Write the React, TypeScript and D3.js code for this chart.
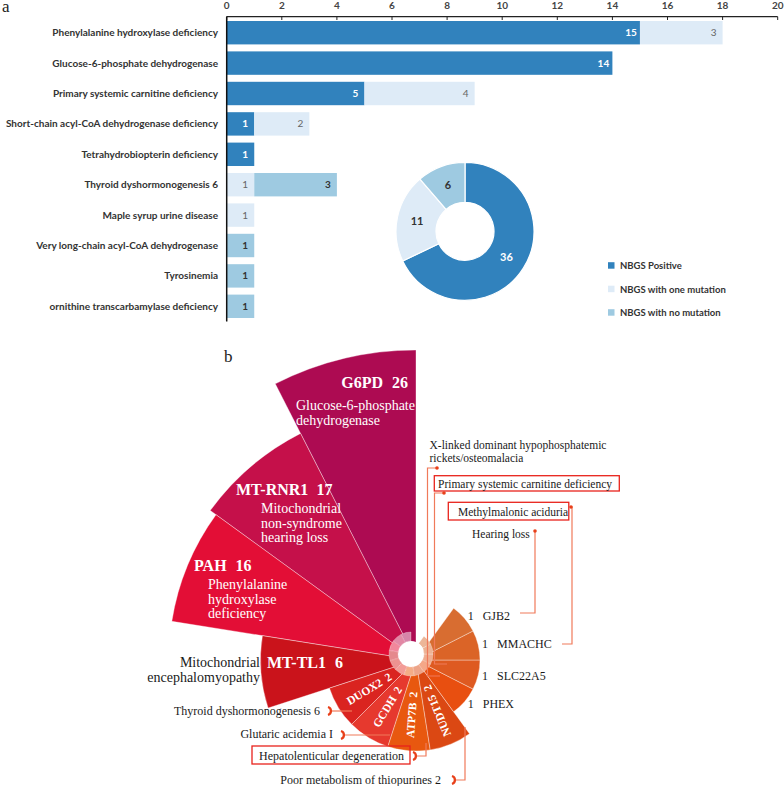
import React from "react";
import * as d3 from "d3";

// ---------- Panel a data ----------
const categories = [
  "Phenylalanine hydroxylase deficiency",
  "Glucose-6-phosphate dehydrogenase",
  "Primary systemic carnitine deficiency",
  "Short-chain acyl-CoA dehydrogenase deficiency",
  "Tetrahydrobiopterin deficiency",
  "Thyroid dyshormonogenesis 6",
  "Maple syrup urine disease",
  "Very long-chain acyl-CoA dehydrogenase",
  "Tyrosinemia",
  "ornithine transcarbamylase deficiency",
];
const positive = [15, 14, 5, 1, 1, 0, 0, 0, 0, 0];
const oneMutation = [3, 0, 4, 2, 0, 1, 1, 0, 0, 0];
const noMutation = [0, 0, 0, 0, 0, 3, 0, 1, 1, 1];
const xTicks = [0, 2, 4, 6, 8, 10, 12, 14, 16, 18, 20];
const seriesKeys = ["pos", "one", "none"];
const seriesNames = ["NBGS Positive", "NBGS with one mutation", "NBGS with no mutation"];
const seriesColors = ["#3182bd", "#deebf7", "#9ecae1"];
const seriesLabelColors = ["#ffffff", "#666666", "#333333"];
const donutValues = [36, 11, 6];

// ---------- Panel b data ----------
const genes = ["G6PD", "MT-RNR1", "PAH", "MT-TL1", "DUOX2", "GCDH", "ATP7B", "NUDT15", "PHEX", "SLC22A5", "MMACHC", "GJB2"];
const geneCounts = [26, 17, 16, 6, 2, 2, 2, 2, 1, 1, 1, 1];
const geneColors = ["#ad0b52", "#c5104a", "#e30e36", "#ca131b", "#da2420", "#e6392e", "#e8580f", "#db4813", "#e84f10", "#de5a21", "#db6427", "#d86d31"];
const bigDescriptions = [
  ["Glucose-6-phosphate", "dehydrogenase"],
  ["Mitochondrial", "non-syndrome", "hearing loss"],
  ["Phenylalanine", "hydroxylase", "deficiency"],
  ["Mitochondrial", "encephalomyopathy"],
];
const leftNotes = ["Thyroid dyshormonogenesis 6", "Glutaric acidemia I", "Hepatolenticular degeneration", "Poor metabolism of thiopurines 2"];
const rightNotes = [["X-linked dominant hypophosphatemic", "rickets/osteomalacia"], ["Primary systemic carnitine deficiency"], ["Methylmalonic aciduria"], ["Hearing loss"]];

const SANS = "Lato, 'Open Sans', sans-serif";
const SERIF = "'Liberation Serif', 'Times New Roman', serif";
const LINE = "#f07a5a";
const DARKLINE = "#e8401a";
const BOX = "#e8231c";

export default function App() {
  // ---------- bar chart scales ----------
  const x = d3.scaleLinear().domain([0, 20]).range([226.7, 777.7]);
  const y = d3.scaleBand().domain(categories).range([17.5, 321.5]).paddingInner(0.23).paddingOuter(0.115);
  const rows = categories.map((c, i) => ({ cat: c, pos: positive[i], one: oneMutation[i], none: noMutation[i] }));
  const stacked = d3.stack<any>().keys(seriesKeys)(rows);

  // ---------- donut ----------
  const pieC = { x: 465, y: 231.3 };
  const pie = d3.pie<number>().sort(null)(donutValues);
  const donutArc = d3.arc<any>().innerRadius(29).outerRadius(69);

  // ---------- rose ----------
  const C = { x: 416, y: 660 };
  const ringC = { x: 411, y: 654 };
  const ang = d3.scaleBand().domain(genes).range([0, 324]);
  const bw = ang.bandwidth();
  const rad = d3.scalePow().exponent(0.45).domain([1, 26]).range([64, 310]);
  const toR = (deg: number) => (deg * Math.PI) / 180;
  const sector = d3.arc<any>();
  const polar = (degCw: number, r: number) => [C.x + r * Math.sin(toR(degCw)), C.y - r * Math.cos(toR(degCw))];

  const roseItems = genes.map((g, i) => {
    const a0 = -(ang(g) as number);
    const a1 = -((ang(g) as number) + bw);
    return { g, v: geneCounts[i], color: geneColors[i], a0, a1, mid: (a0 + a1) / 2, r: rad(geneCounts[i]) };
  });

  // label layout offsets (relative to rose centre) for the four large sectors
  const bigLayout = [
    { title: [-8, -272], anchor: "end", desc: [-120, -250], descAnchor: "start", descFill: "#fff" },
    { title: [-180, -165], anchor: "start", desc: [-155, -147], descAnchor: "start", descFill: "#fff" },
    { title: [-222, -89], anchor: "start", desc: [-208, -71], descAnchor: "start", descFill: "#fff" },
    { title: [-149, 8], anchor: "start", desc: [-156, 7], descAnchor: "end", descFill: "#1a1a1a" },
  ];

  const leftLayout = [
    { text: [320, 715], bracket: [329, 711], line: [[332, 711], [352, 711]], box: null },
    { text: [333, 738], bracket: [342, 735], line: [[345, 735], [390, 735]], box: null },
    { text: [404, 760], bracket: [414, 756], line: [[417, 756], [426, 756], [426, 743]], box: [252, 746, 158, 18] },
    { text: [441, 784], bracket: [453, 780], line: [[456, 780], [465, 780], [465, 727]], box: null },
  ];
  const rightLayout = [
    { text: [429.5, 449], box: null, dot: [437, 468], line: [[437, 468], [427.5, 468], [427.5, 676], [440, 676]] },
    { text: [438, 487.5], box: [434.3, 475.7, 185, 15.3], dot: [444, 493], line: [[444, 493], [434.5, 493], [434.5, 664], [447, 664]] },
    { text: [458, 515.5], box: [448.3, 502.3, 120.5, 17.7], dot: [571, 507], line: [[571, 507], [572, 507], [572, 644], [562, 644]] },
    { text: [472, 538], box: null, dot: [535, 531], line: [[535, 531], [535, 613], [520, 613]] },
  ];

  const lineGen = d3.line();

  return (
    <svg width={784} height={786} style={{ position: "absolute", left: 0, top: 0, background: "#fff" }}>
      <rect width={784} height={786} fill="#fff" />
      {/* ===================== Panel a ===================== */}
      <text x={2} y={12} fontFamily={SERIF} fontSize={17} fill="#222">a</text>

      {/* bars */}
      {stacked.map((s, si) => (
        <g key={s.key}>
          {s.map((d, i) => {
            const w = x(d[1]) - x(d[0]);
            if (w <= 0) return null;
            return (
              <g key={i}>
                <rect x={x(d[0])} y={y(categories[i])} width={w} height={y.bandwidth()} fill={seriesColors[si]} />
                <text
                  x={x(d[1]) - 9}
                  y={(y(categories[i]) as number) + y.bandwidth() / 2}
                  dy="0.35em"
                  textAnchor="middle"
                  fontFamily={SANS}
                  fontWeight={si === 1 ? 400 : 700}
                  fontSize={10}
                  fill={seriesLabelColors[si]}
                >
                  {d[1] - d[0]}
                </text>
              </g>
            );
          })}
        </g>
      ))}

      {/* category labels */}
      {categories.map((c) => (
        <text key={c} x={218} y={(y(c) as number) + y.bandwidth() / 2} dy="0.35em" textAnchor="end" fontFamily={SANS} fontWeight={700} fontSize={10} fill="#333">
          {c}
        </text>
      ))}

      {/* top axis */}
      <line x1={x(0)} x2={x(20)} y1={16.7} y2={16.7} stroke="#222" strokeWidth={1.2} />
      {xTicks.map((t) => (
        <g key={t}>
          <line x1={x(t)} x2={x(t)} y1={16.7} y2={20} stroke="#222" strokeWidth={1} />
          <text x={x(t)} y={9} textAnchor="middle" fontFamily={SANS} fontWeight={700} fontSize={10} fill="#444">{t}</text>
        </g>
      ))}
      <line x1={x(0)} x2={x(0)} y1={16.5} y2={321.5} stroke="#111" strokeWidth={1.5} />

      {/* donut */}
      <g transform={`translate(${pieC.x},${pieC.y})`}>
        {pie.map((p, i) => (
          <path key={i} d={donutArc(p) as string} fill={seriesColors[i]} stroke="#fff" strokeWidth={1.2} />
        ))}
        {pie.map((p, i) => {
          const [cx, cy] = donutArc.centroid(p);
          return (
            <text key={"l" + i} x={cx} y={cy} dy="0.35em" textAnchor="middle" fontFamily={SANS} fontWeight={700} fontSize={11} fill={i === 0 ? "#fff" : "#333"}>
              {donutValues[i]}
            </text>
          );
        })}
      </g>

      {/* legend */}
      {seriesNames.map((n, i) => (
        <g key={n} transform={`translate(608,${265.7 + i * 23.5})`}>
          <rect x={0} y={-3.5} width={6.5} height={6.5} fill={seriesColors[i]} />
          <text x={12} y={0} dy="0.35em" fontFamily={SANS} fontWeight={700} fontSize={9.5} fill="#333">{n}</text>
        </g>
      ))}

      {/* ===================== Panel b ===================== */}
      <text x={224} y={362} fontFamily={SERIF} fontSize={17} fill="#222">b</text>

      {/* sectors */}
      <g transform={`translate(${C.x},${C.y})`}>
        {roseItems.map((d) => (
          <path
            key={d.g}
            d={sector({ innerRadius: 0, outerRadius: d.r, startAngle: toR(d.a0), endAngle: toR(d.a1) }) as string}
            fill={d.color}
            stroke="rgba(255,255,255,0.45)"
            strokeWidth={0.8}
          />
        ))}
      </g>
      {/* inner ring */}
      <g transform={`translate(${ringC.x},${ringC.y})`}>
        {roseItems.map((d) => (
          <path
            key={d.g}
            d={sector({ innerRadius: 13, outerRadius: 22, startAngle: toR(d.a0), endAngle: toR(d.a1) }) as string}
            fill={d3.interpolateRgb(d.color, "#ffffff")(0.5)}
            stroke="rgba(255,255,255,0.5)"
            strokeWidth={0.5}
          />
        ))}
        <circle r={13} fill="#fff" />
      </g>

      {/* big sector labels */}
      {roseItems.slice(0, 4).map((d, i) => {
        const L = bigLayout[i];
        return (
          <g key={"big" + d.g}>
            <text x={C.x + L.title[0]} y={C.y + L.title[1]} textAnchor={L.anchor as any} fontFamily={SERIF} fontWeight={700} fontSize={16} fill="#fff">
              <tspan>{d.g}</tspan>
              <tspan dx={9}>{d.v}</tspan>
            </text>
            {bigDescriptions[i].map((line, j) => (
              <text key={j} x={C.x + L.desc[0]} y={C.y + L.desc[1] + j * 14.5} textAnchor={L.descAnchor as any} fontFamily={SERIF} fontSize={14} fill={L.descFill}>
                {line}
              </text>
            ))}
          </g>
        );
      })}

      {/* rotated labels in value-2 sectors */}
      {roseItems.filter((d) => d.v === 2).map((d) => {
        const [px, py] = polar(d.mid, 55);
        const rot = (Math.atan2(Math.cos(toR(d.mid)), -Math.sin(toR(d.mid))) * 180) / Math.PI;
        return (
          <text key={"m" + d.g} transform={`translate(${px},${py}) rotate(${rot})`} textAnchor="middle" dy="0.35em" fontFamily={SERIF} fontWeight={700} fontSize={11.5} fill="#fff">
            <tspan>{d.g}</tspan>
            <tspan dx={5}>{d.v}</tspan>
          </text>
        );
      })}

      {/* outside labels for value-1 sectors */}
      {roseItems.filter((d) => d.v === 1).map((d) => {
        const [px, py] = polar(d.mid, d.r + 4);
        return (
          <text key={"s" + d.g} x={px} y={py} dy="0.35em" fontFamily={SERIF} fontSize={12} fill="#1a1a1a">
            <tspan>{d.v}</tspan>
            <tspan dx={9}>{d.g}</tspan>
          </text>
        );
      })}

      {/* left annotations */}
      {leftLayout.map((L, i) => (
        <g key={"ln" + i}>
          {L.box && <rect x={L.box[0]} y={L.box[1]} width={L.box[2]} height={L.box[3]} fill="none" stroke={BOX} strokeWidth={1.3} />}
          <text x={L.text[0]} y={L.text[1]} textAnchor="end" fontFamily={SERIF} fontSize={12} fill="#1a1a1a">{leftNotes[i]}</text>
          <path d={lineGen(L.line as any) as string} fill="none" stroke={LINE} strokeWidth={1.2} />
          <path
            d={`M${L.bracket[0] - 1},${L.bracket[1] - 4} A4.2,4.2 0 0 1 ${L.bracket[0] - 1},${L.bracket[1] + 4}`}
            fill="none"
            stroke={DARKLINE}
            strokeWidth={2.3}
          />
        </g>
      ))}

      {/* right annotations */}
      {rightLayout.map((L, i) => (
        <g key={"rn" + i}>
          {L.box && <rect x={L.box[0]} y={L.box[1]} width={L.box[2]} height={L.box[3]} fill="none" stroke={BOX} strokeWidth={1.3} />}
          {rightNotes[i].map((t, j) => (
            <text key={j} x={L.text[0]} y={L.text[1] + j * 13} fontFamily={SERIF} fontSize={11.5} fill="#1a1a1a">{t}</text>
          ))}
          <path d={lineGen(L.line as any) as string} fill="none" stroke={LINE} strokeWidth={1.2} />
          <circle cx={L.dot[0]} cy={L.dot[1]} r={1.8} fill={DARKLINE} />
        </g>
      ))}
    </svg>
  );
}
